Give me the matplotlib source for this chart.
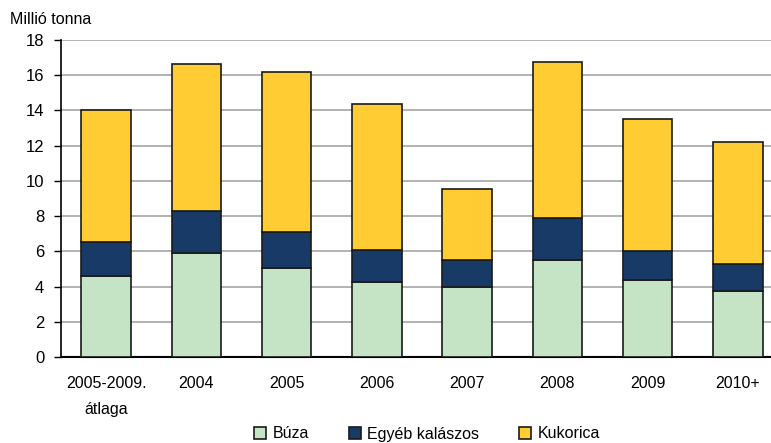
import matplotlib
matplotlib.use("Agg")
import matplotlib.pyplot as plt
import numpy as np

plt.rcParams['font.family'] = ['Liberation Sans', 'DejaVu Sans']

categories = ["2005-2009.\nátlaga", "2004", "2005", "2006", "2007", "2008", "2009", "2010+"]
buza = [4.6, 5.9, 5.05, 4.26, 3.97, 5.5, 4.37, 3.75]
egyeb = [1.93, 2.39, 2.05, 1.82, 1.53, 2.4, 1.65, 1.53]
kukorica = [7.5, 8.35, 9.08, 8.29, 4.04, 8.85, 7.48, 6.92]
yticks = [0, 2, 4, 6, 8, 10, 12, 14, 16, 18]

W, H = 771, 443
fig = plt.figure(figsize=(W/100, H/100), dpi=100)
ax = fig.add_axes([61/W, (H-357)/H, (783-61)/W, 317/H])

x = np.arange(len(categories))
bw = 0.55
ec = "#1a1a1a"
b1 = ax.bar(x, buza, bw, color="#C5E3C5", edgecolor=ec, linewidth=1.2, label="Búza", zorder=3)
bot2 = np.array(buza)
b2 = ax.bar(x, egyeb, bw, bottom=bot2, color="#173A66", edgecolor=ec, linewidth=1.2, label="Egyéb kalászos", zorder=3)
bot3 = bot2 + np.array(egyeb)
b3 = ax.bar(x, kukorica, bw, bottom=bot3, color="#FFCC33", edgecolor=ec, linewidth=1.2, label="Kukorica", zorder=3)

fs = 11.5
ax.set_xlim(-0.5, len(categories) - 0.5)
ax.set_ylim(0, 18)
ax.set_yticks(yticks)
ax.set_yticklabels([str(t) for t in yticks], fontsize=12)
ax.set_xticks(x)
ax.set_xticklabels(categories, fontsize=fs, linespacing=1.9)
ax.tick_params(axis='x', length=0, pad=14)
ax.tick_params(axis='y', length=5, width=1, direction='out', pad=7)
ax.yaxis.grid(True, color="#A6A6A6", linewidth=1.2, zorder=0)
ax.set_axisbelow(True)
for s in ["top", "right"]:
    ax.spines[s].set_visible(False)
ax.spines["left"].set_linewidth(1.2)
ax.spines["bottom"].set_linewidth(1.5)

fig.text(10/W, 1 - 19/H, "Millió tonna", fontsize=fs, ha="left", va="center")

leg = fig.legend(handles=[b1, b2, b3], loc="center", bbox_to_anchor=(427/W, 1 - 434/H),
                 ncol=3, frameon=False, fontsize=fs, handlelength=0.75, handleheight=0.75,
                 columnspacing=2.5, handletextpad=0.4)

fig.savefig("out.png", dpi=100)
